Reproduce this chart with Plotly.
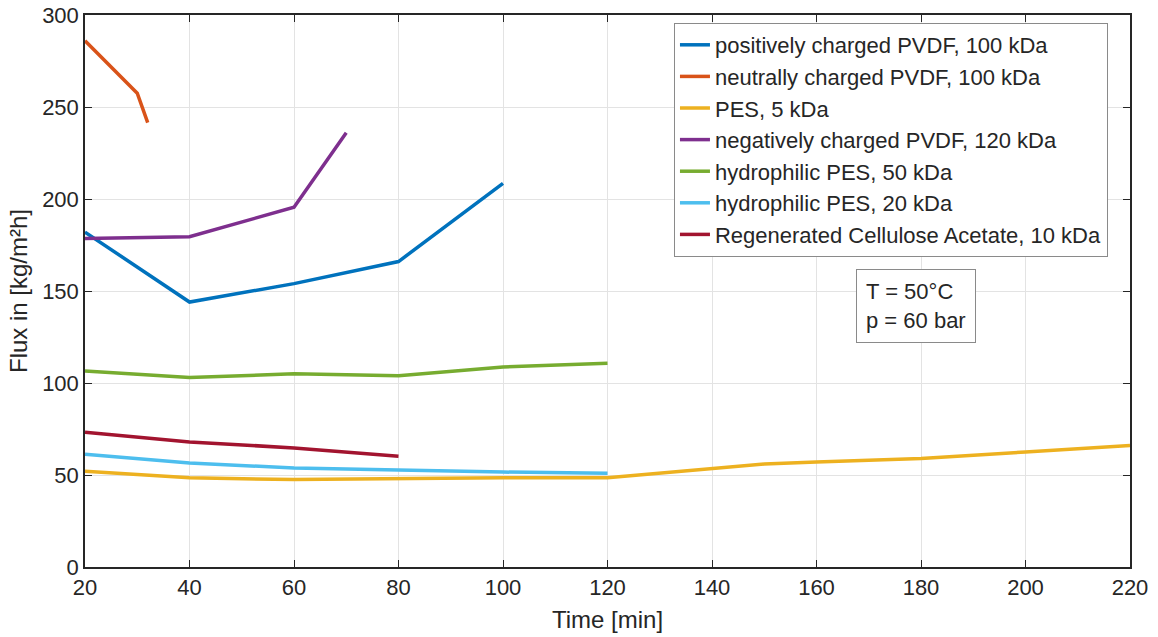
import plotly.graph_objects as go

# Data
pos_pvdf_x = [20, 40, 60, 80, 100]
pos_pvdf_y = [182, 144, 154, 166, 208.5]

neu_pvdf_x = [20, 30, 32]
neu_pvdf_y = [286, 257.5, 241.5]

pes5_x = [20, 40, 60, 80, 100, 120, 140, 150, 160, 180, 200, 220]
pes5_y = [52, 48.5, 47.5, 48, 48.5, 48.5, 53.5, 56, 57, 59, 62.5, 66]

neg_pvdf_x = [20, 40, 60, 70]
neg_pvdf_y = [178.5, 179.5, 195.5, 236]

hpes50_x = [20, 40, 60, 80, 100, 120]
hpes50_y = [106.5, 103, 105, 104, 108.7, 110.8]

hpes20_x = [20, 40, 60, 80, 100, 120]
hpes20_y = [61.3, 56.5, 53.8, 52.7, 51.6, 51]

rca_x = [20, 40, 60, 80]
rca_y = [73.2, 68, 64.7, 60.2]

names = [
    "positively charged PVDF, 100 kDa",
    "neutrally charged PVDF, 100 kDa",
    "PES, 5 kDa",
    "negatively charged PVDF, 120 kDa",
    "hydrophilic PES, 50 kDa",
    "hydrophilic PES, 20 kDa",
    "Regenerated Cellulose Acetate, 10 kDa",
]
colors = ["#0072BD", "#D95319", "#EDB120", "#7E2F8E", "#77AC30", "#4DBEEE", "#A2142F"]
series = [
    (pos_pvdf_x, pos_pvdf_y),
    (neu_pvdf_x, neu_pvdf_y),
    (pes5_x, pes5_y),
    (neg_pvdf_x, neg_pvdf_y),
    (hpes50_x, hpes50_y),
    (hpes20_x, hpes20_y),
    (rca_x, rca_y),
]

x_ticks = list(range(20, 221, 20))
y_ticks = list(range(0, 301, 50))

fig = go.Figure()
for (xs, ys), n, c in zip(series, names, colors):
    fig.add_trace(go.Scatter(x=xs, y=ys, mode="lines", name=n,
                             line=dict(color=c, width=3.5)))

font = "Liberation Sans, Arial, sans-serif"
axis_common = dict(
    showline=True, linecolor="#262626", linewidth=1.5, mirror="ticks",
    ticks="inside", ticklen=7, tickcolor="#262626",
    showgrid=True, gridcolor="#e3e3e3", gridwidth=1.2,
    zeroline=False, automargin=False,
    tickfont=dict(family=font, size=22, color="#262626"),
)

fig.update_layout(
    width=1158, height=637,
    margin=dict(l=85, r=28, t=15, b=70),
    paper_bgcolor="white", plot_bgcolor="white",
    font=dict(family=font, color="#262626"),
    xaxis=dict(range=[20, 220], tickvals=x_ticks,
               title=dict(text="Time [min]", font=dict(family=font, size=24, color="#262626"), standoff=12),
               **axis_common),
    yaxis=dict(range=[0, 300], tickvals=y_ticks,
               title=dict(text="Flux in [kg/m²h]", font=dict(family=font, size=24, color="#262626"), standoff=8),
               **axis_common),
    legend=dict(x=0.5636, y=0.9855, xanchor="left", yanchor="top",
                bgcolor="white", bordercolor="#8a8a8a", borderwidth=1,
                font=dict(family=font, size=22, color="#262626"),
                itemwidth=30, tracegroupgap=0),
    showlegend=True,
)

fig.add_annotation(
    x=179, y=142, xref="x", yref="y", showarrow=False,
    text="T = 50°C<br>p = 60 bar", align="left",
    font=dict(family=font, size=22, color="#262626"),
    bordercolor="#8a8a8a", borderwidth=1, borderpad=9, bgcolor="white",
)

fig.write_html("out.html")
